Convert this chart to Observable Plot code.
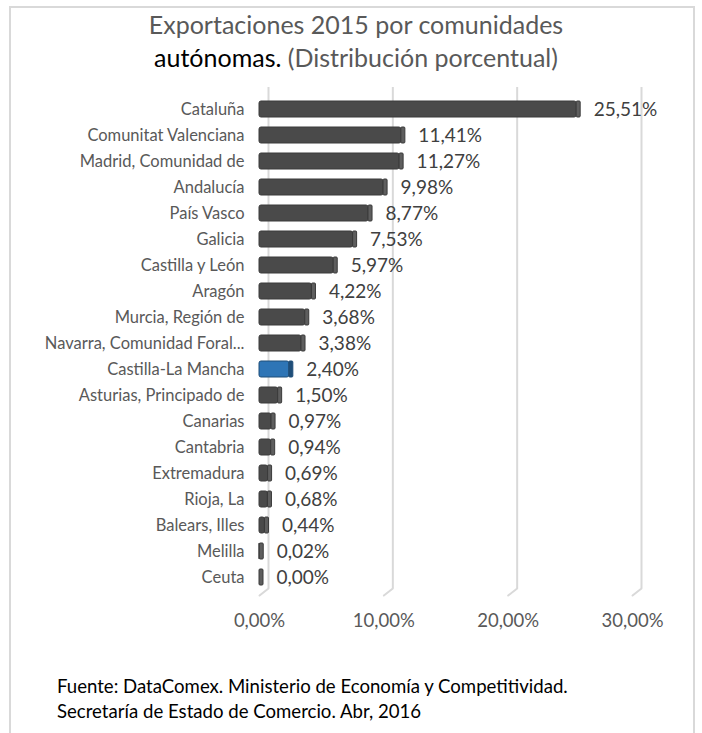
<!DOCTYPE html>
<html>
<head>
<meta charset="utf-8">
<script src="https://cdn.jsdelivr.net/npm/d3@7"></script>
<script src="https://cdn.jsdelivr.net/npm/@observablehq/plot@0.6"></script>
<style>
  html, body { margin: 0; padding: 0; background: #fff; }
  #page { position: relative; width: 702px; height: 733px; overflow: hidden; font-family: Lato, "Open Sans", sans-serif; }
  #frame { position: absolute; left: 9px; top: 6px; width: 686px; height: 760px; border: 2px solid #d9d9d9; box-sizing: border-box; }
  #title { position: absolute; left: 0; width: 712px; top: 8px; text-align: center; font-size: 25px; line-height: 33px; color: #595959; }
  #title .dark { color: #000; }
  #chart { position: absolute; left: 0; top: 0; }
  #caption { position: absolute; left: 57px; top: 674px; font-size: 18.6px; line-height: 25px; color: #000; }
</style>
</head>
<body>
<div id="page">
  <div id="frame"></div>
  <div id="chart"></div>
  <div id="title">Exportaciones 2015 por comunidades<br><span class="dark">autónomas.</span> (Distribución porcentual)</div>
  <div id="caption">Fuente: DataComex. Ministerio de Economía y Competitividad.<br>Secretaría de Estado de Comercio. Abr, 2016</div>
</div>
<script>
const regions = ["Cataluña", "Comunitat Valenciana", "Madrid, Comunidad de", "Andalucía", "País Vasco", "Galicia", "Castilla y León", "Aragón", "Murcia, Región de", "Navarra, Comunidad Foral...", "Castilla-La Mancha", "Asturias, Principado de", "Canarias", "Cantabria", "Extremadura", "Rioja, La", "Balears, Illes", "Melilla", "Ceuta"];
const shares = [25.51, 11.41, 11.27, 9.98, 8.77, 7.53, 5.97, 4.22, 3.68, 3.38, 2.40, 1.50, 0.97, 0.94, 0.69, 0.68, 0.44, 0.02, 0.00];
const highlighted = "Castilla-La Mancha";
const xTicks = [0, 10, 20, 30];

const data = regions.map((name, i) => ({name, value: shares[i]}));
const pct = v => v.toFixed(2).replace(".", ",") + "%";
const lineShape = {draw(context, l) { context.moveTo(0, 0); context.lineTo(0, -l); }};

const chart = Plot.plot({
  width: 702,
  height: 640,
  marginLeft: 259,
  marginRight: 70,
  marginTop: 92,
  marginBottom: 47,
  style: {fontFamily: "Lato, 'Open Sans', sans-serif", color: "#595959", background: "transparent"},
  x: {domain: [0, 30]},
  y: {domain: regions, paddingInner: 0, paddingOuter: 0},
  marks: [
    Plot.ruleX(xTicks, {x: d => d, dx: 9, insetTop: -5, insetBottom: 5, stroke: "#d9d9d9", strokeWidth: 2}),
    Plot.vector(xTicks, {x: d => d, frameAnchor: "bottom", dx: 9, dy: -5, length: 11.4, rotate: 232, anchor: "start", shape: lineShape, stroke: "#d9d9d9", strokeWidth: 2}),
    Plot.barX(data, {x: "value", y: "name", insetTop: 5, insetBottom: 5, rx: 2,
      fill: d => d.name === highlighted ? "#2e75b6" : "#4a4a4a",
      stroke: d => d.name === highlighted ? "#1f4e79" : "#3a3a3a", strokeWidth: 1}),
    Plot.barX(data, {x1: "value", x2: "value", y: "name", insetTop: 5, insetBottom: 5, insetRight: -4, rx: 1,
      fill: d => d.name === highlighted ? "#1f4e79" : "#5e5e5e",
      stroke: d => d.name === highlighted ? "#1f4e79" : "#3a3a3a", strokeWidth: 1}),
    Plot.text(data, {x: "value", y: "name", text: d => pct(d.value), textAnchor: "start", dx: 17, fontSize: 19, fill: "#404040"}),
    Plot.axisY({tickSize: 0, tickPadding: 15, fontSize: 16.5, label: null}),
    Plot.axisX({ticks: xTicks, tickSize: 0, tickPadding: 20, fontSize: 18.5, tickFormat: pct, label: null})
  ]
});
document.getElementById("chart").appendChild(chart);
</script>
</body>
</html>
